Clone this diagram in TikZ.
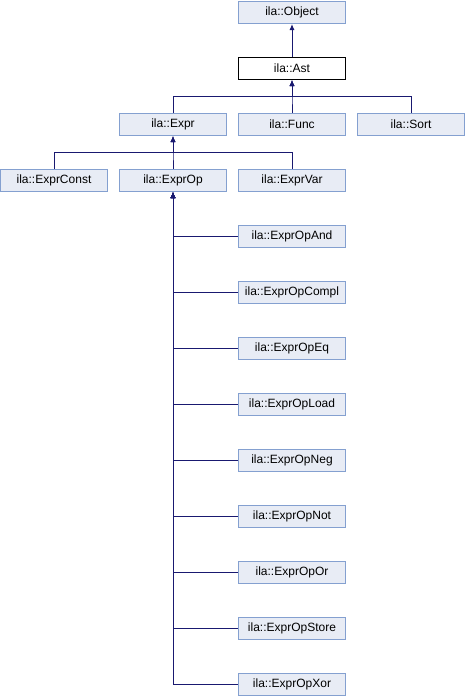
\documentclass[tikz,border=0pt]{standalone}
\usepackage{fontspec}
\setmainfont{Liberation Sans}
\usetikzlibrary{arrows.meta}
\usetikzlibrary{positioning}
\definecolor{dxfill}{HTML}{E8ECF5}
\definecolor{dxedge}{HTML}{84A0D0}
\definecolor{dxline}{HTML}{191970}
\tikzset{cls/.style={rectangle,draw=dxedge,fill=dxfill,line width=1pt,minimum width=107pt,minimum height=22pt,inner sep=0pt,font=\fontsize{12}{14}\selectfont}}
\tikzset{cur/.style={cls,draw=black,fill=white}}
\tikzset{inh/.style={draw=dxline,line width=1pt,{Latex[length=6pt,width=5pt]}-}}

\begin{document}
\begin{tikzpicture}[x=1pt,y=-1pt]
\useasboundingbox (0,0) rectangle (466,696);

\node (Object) at (292,12.5) [cls] {ila::Object};
\node (Ast) at (292,68.5) [cur] {ila::Ast};

\node (Expr) at (173,124.5) [cls] {ila::Expr};
\node (Func) at (292,124.5) [cls] {ila::Func};
\node (Sort) at (411,124.5) [cls] {ila::Sort};

\node (ExprConst) at (54,180.5) [cls] {ila::ExprConst};
\node (ExprOp) at (173,180.5) [cls] {ila::ExprOp};
\node (ExprVar) at (292,180.5) [cls] {ila::ExprVar};

\foreach \name [count=\k from 0] in {And,Compl,Eq,Load,Neg,Not,Or,Store,Xor}
{
	\node (ExprOp\name) at (292,236.5+56*\k) [cls] {ila::ExprOp\name};
	\draw[inh] (ExprOp.south) |- (ExprOp\name.west);
}

\coordinate (astbar) at (292,96);
\coordinate (exprbar) at (173,152);

\draw[inh] (Object.south) -- (Ast.north);
\foreach \c in {Expr,Func,Sort}
{
	\draw[inh] (Ast.south) -- (astbar) -| (\c.north);
}
\foreach \c in {ExprConst,ExprOp,ExprVar}
{
	\draw[inh] (Expr.south) -- (exprbar) -| (\c.north);
}
\end{tikzpicture}
\end{document}
